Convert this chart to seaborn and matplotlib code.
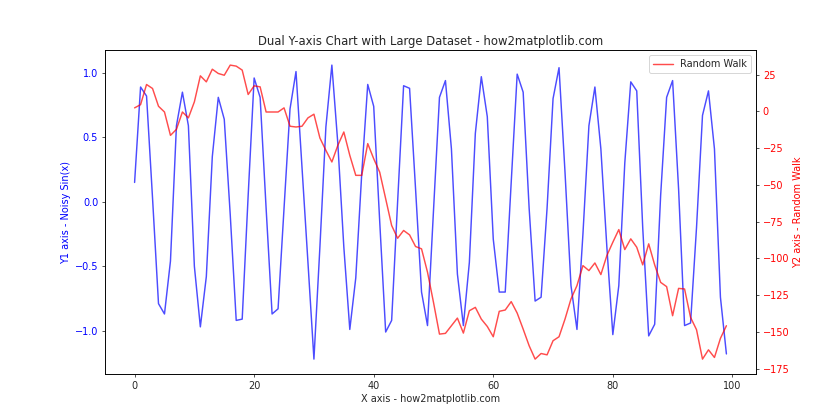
import numpy as np
import pandas as pd
import matplotlib
matplotlib.use("Agg")
import matplotlib.pyplot as plt
import seaborn as sns

x_values = list(range(100))

noisy_sin = [
    0.15, 0.89, 0.82, 0.03, -0.79, -0.87, -0.46, 0.59, 0.85, 0.59,
    -0.50, -0.97, -0.58, 0.35, 0.81, 0.64, -0.10, -0.92, -0.91, 0.05,
    0.96, 0.81, -0.05, -0.87, -0.83, -0.05, 0.72, 1.01, 0.27, -0.47,
    -1.22, -0.35, 0.58, 1.06, 0.45, -0.35, -0.99, -0.59, 0.22, 0.91,
    0.74, -0.15, -1.01, -0.92, 0.00, 0.90, 0.88, 0.10, -0.70, -0.96,
    -0.07, 0.81, 0.94, 0.41, -0.56, -0.96, -0.47, 0.53, 0.97, 0.66,
    -0.29, -0.70, -0.70, 0.15, 0.99, 0.85, -0.05, -0.77, -0.74, -0.05,
    0.80, 1.04, 0.23, -0.65, -0.99, -0.25, 0.59, 0.89, 0.41, -0.35,
    -1.03, -0.65, 0.30, 0.93, 0.86, -0.20, -1.04, -0.95, 0.05, 0.81,
    0.94, 0.10, -0.96, -0.94, -0.20, 0.67, 0.86, 0.41, -0.74, -1.18,
]

random_walk = [
    2.3, 4.5, 18.2, 15.5, 3.4, -0.5, -16.4, -12.3, -0.5, -4.5,
    6.4, 24.1, 20.0, 28.6, 25.7, 24.5, 31.4, 30.7, 28.0, 11.4,
    17.3, 16.6, -0.5, -0.5, -0.5, 2.3, -10.2, -10.7, -10.2, -4.5,
    -2.0, -18.2, -26.6, -34.5, -23.2, -14.1, -30.0, -43.6, -43.6, -22.0,
    -32.3, -41.4, -59.5, -77.7, -86.4, -81.1, -84.1, -92.0, -93.6, -109.5,
    -130.0, -151.6, -151.1, -145.9, -140.7, -150.9, -135.7, -133.4, -141.4, -146.4,
    -153.4, -136.1, -135.2, -129.5, -137.3, -148.2, -159.5, -168.6, -164.8, -165.7,
    -156.1, -153.4, -141.4, -127.7, -118.6, -105.0, -108.4, -103.2, -111.1, -98.2,
    -89.1, -80.5, -94.1, -86.8, -92.5, -104.5, -90.2, -104.5, -116.4, -119.3,
    -139.1, -120.5, -120.9, -140.2, -148.6, -168.6, -162.3, -167.5, -154.5, -145.9,
]

df = pd.DataFrame({"x": x_values, "y1": noisy_sin, "y2": random_walk})

sns.set_style("white")
plt.rcParams["font.family"] = ["DejaVu Sans"]
plt.rcParams["axes.edgecolor"] = "black"
plt.rcParams["xtick.bottom"] = True
plt.rcParams["ytick.left"] = True

fig, ax1 = plt.subplots(figsize=(12, 6), dpi=70)
ax2 = ax1.twinx()

sns.lineplot(data=df, x="x", y="y1", ax=ax1, color="b", alpha=0.7, linewidth=1.5, legend=False)
sns.lineplot(data=df, x="x", y="y2", ax=ax2, color="r", alpha=0.7, linewidth=1.5, label="Random Walk")

ax1.set_xlabel("X axis - how2matplotlib.com")
ax1.set_ylabel("Y1 axis - Noisy Sin(x)", color="b")
ax2.set_ylabel("Y2 axis - Random Walk", color="r")
ax1.tick_params(axis="y", labelcolor="b", left=True)
ax1.tick_params(axis="x", bottom=True)
ax2.tick_params(axis="y", labelcolor="r", right=True)
ax1.set_xticks([0, 20, 40, 60, 80, 100])
ax1.set_yticks([-1.0, -0.5, 0.0, 0.5, 1.0])
ax2.set_yticks([25, 0, -25, -50, -75, -100, -125, -150, -175])
for sp in ax1.spines.values():
    sp.set_color("black")
for sp in ax2.spines.values():
    sp.set_color("black")

ax2.legend(loc="upper right")
ax1.set_title("Dual Y-axis Chart with Large Dataset - how2matplotlib.com")

fig.savefig("out.png")
